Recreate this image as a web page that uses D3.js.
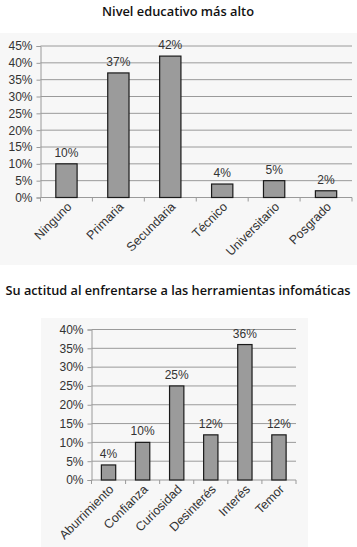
<!DOCTYPE html>
<html><head><meta charset="utf-8">
<script src="https://cdn.jsdelivr.net/npm/d3@7"></script>
<style>body{margin:0;background:#fff}svg{display:block}</style>
</head><body>
<script>
const title1 = "Nivel educativo más alto";
const categories1 = ["Ninguno","Primaria","Secundaria","Técnico","Universitario","Posgrado"];
const values1 = [10,37,42,4,5,2];
const ticks1 = [0,5,10,15,20,25,30,35,40,45];

const title2 = "Su actitud al enfrentarse a las herramientas infomáticas";
const categories2 = ["Aburrimiento","Confianza","Curiosidad","Desinterés","Interés","Temor"];
const values2 = [4,10,25,12,36,12];
const ticks2 = [0,5,10,15,20,25,30,35,40];

const W = 357, H = 547;
const svg = d3.select("body").append("svg").attr("width", W).attr("height", H);

// panels
svg.append("rect").attr("x",0).attr("y",33).attr("width",357).attr("height",232).attr("fill","#f7f7f7");
svg.append("rect").attr("x",41).attr("y",318).attr("width",267).attr("height",229).attr("fill","#f7f7f7");

function title(t, x, y, len){
  svg.append("text").attr("x",x).attr("y",y).attr("text-anchor","middle")
    .attr("font-family","Open Sans").attr("font-weight",600).attr("font-size",12.5)
    .attr("fill","#111").attr("textLength",len).attr("lengthAdjust","spacingAndGlyphs").text(t);
}

function chart(cfg){
  const {cats, vals, ticks, x0, x1, y0, yTop, maxV, pad} = cfg;
  const x = d3.scaleBand().domain(cats).range([x0,x1]).paddingInner(pad).paddingOuter(pad/2);
  const y = d3.scaleLinear().domain([0,maxV]).range([y0,yTop]);
  const g = svg.append("g");
  g.selectAll(".grid").data(ticks.filter(t=>t>0)).join("line")
    .attr("x1",x0).attr("x2",x1).attr("y1",d=>y(d)).attr("y2",d=>y(d))
    .attr("stroke","#9a9a9a").attr("stroke-width",1);
  const ya = d3.axisLeft(y).tickValues(ticks).tickFormat(d=>d+"%").tickSize(4).tickPadding(4);
  const yg = g.append("g").attr("transform",`translate(${x0},0)`).call(ya);
  yg.select(".domain").attr("stroke","#9a9a9a");
  yg.selectAll(".tick line").attr("stroke","#9a9a9a");
  yg.selectAll("text").attr("font-family","Liberation Sans, Arial").attr("font-size",12).attr("fill","#333");
  g.append("line").attr("x1",x0).attr("x2",x1).attr("y1",y0).attr("y2",y0).attr("stroke","#9a9a9a");
  const bounds = d3.range(cats.length+1).map(i=>x0 + i*(x1-x0)/cats.length);
  g.selectAll(".bt").data(bounds).join("line")
    .attr("x1",d=>d).attr("x2",d=>d).attr("y1",y0).attr("y2",y0+4).attr("stroke","#9a9a9a");
  g.selectAll(".bar").data(vals).join("rect")
    .attr("x",(d,i)=>x(cats[i])).attr("width",x.bandwidth())
    .attr("y",d=>y(d)).attr("height",d=>y0-y(d))
    .attr("fill","#9b9b9b").attr("stroke","#1a1a1a").attr("stroke-width",1.2);
  g.selectAll(".vl").data(vals).join("text")
    .attr("x",(d,i)=>x(cats[i])+x.bandwidth()/2).attr("y",d=>y(d)-7)
    .attr("text-anchor","middle").attr("font-family","Liberation Sans, Arial").attr("font-size",12)
    .attr("fill","#333").text(d=>d+"%");
  g.selectAll(".cl").data(cats).join("text")
    .attr("transform",d=>`translate(${x(d)+x.bandwidth()/2+6},${y0+10}) rotate(-45)`)
    .attr("text-anchor","end").attr("font-family","Liberation Sans, Arial").attr("font-size",12.5)
    .attr("fill","#333").text(d=>d);
}

title(title1, 178, 16, 152);
chart({cats:categories1, vals:values1, ticks:ticks1, x0:40.5, x1:352, y0:197.5, yTop:46, maxV:45, pad:0.59});
title(title2, 178, 295, 345);
chart({cats:categories2, vals:values2, ticks:ticks2, x0:91.5, x1:296, y0:480, yTop:329.5, maxV:40, pad:0.58});
</script>
</body></html>
